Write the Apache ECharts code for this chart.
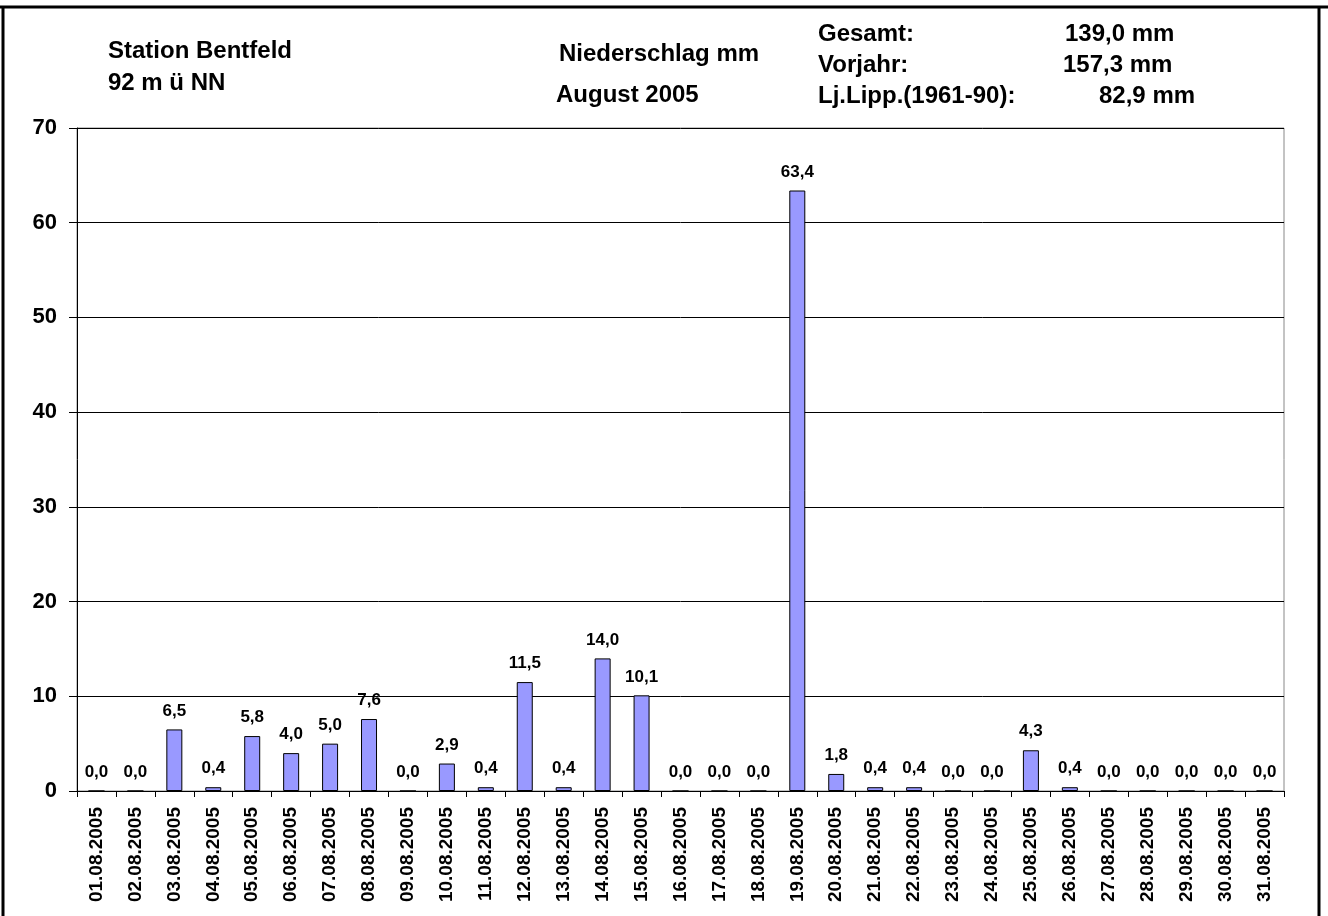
<!DOCTYPE html>
<html><head><meta charset="utf-8">
<script src="https://cdn.jsdelivr.net/npm/echarts@6/dist/echarts.min.js"></script>
<style>html,body{margin:0;padding:0;background:#fff}#c{width:1328px;height:916px}</style>
</head><body><div id="c"></div>
<script>
const categories = ['01.08.2005','02.08.2005','03.08.2005','04.08.2005','05.08.2005','06.08.2005','07.08.2005','08.08.2005','09.08.2005','10.08.2005','11.08.2005','12.08.2005','13.08.2005','14.08.2005','15.08.2005','16.08.2005','17.08.2005','18.08.2005','19.08.2005','20.08.2005','21.08.2005','22.08.2005','23.08.2005','24.08.2005','25.08.2005','26.08.2005','27.08.2005','28.08.2005','29.08.2005','30.08.2005','31.08.2005'];
const precipitation = [0.0,0.0,6.5,0.4,5.8,4.0,5.0,7.6,0.0,2.9,0.4,11.5,0.4,14.0,10.1,0.0,0.0,0.0,63.4,1.8,0.4,0.4,0.0,0.0,4.3,0.4,0.0,0.0,0.0,0.0,0.0];
const yTicks = [0,10,20,30,40,50,60,70];
const stationLines = ['Station Bentfeld','92 m ü NN'];
const titleLines = ['Niederschlag mm','August 2005'];
const summaryLabels = ['Gesamt:','Vorjahr:','Lj.Lipp.(1961-90):'];
const summaryValues = ['139,0 mm','157,3 mm','82,9 mm'];

const FONT = '"Liberation Sans", Arial, sans-serif';
const chart = echarts.init(document.getElementById('c'));
function txt(x,y,s,size){return {type:'text',left:x,top:y-size/2-1,style:{text:s,font:'bold '+size+'px '+FONT,fill:'#000'}};}
const T = 24;
const graphics = [
  {type:'line',shape:{x1:0,y1:7,x2:1328,y2:7},style:{stroke:'#000',lineWidth:3}},
  {type:'line',shape:{x1:3,y1:7,x2:3,y2:916},style:{stroke:'#000',lineWidth:3}},
  {type:'line',shape:{x1:1319,y1:7,x2:1319,y2:916},style:{stroke:'#000',lineWidth:3}},
  txt(108,52,stationLines[0],T), txt(108,84,stationLines[1],T),
  txt(559,55,titleLines[0],T), txt(556,96,titleLines[1],T),
  txt(818,35,summaryLabels[0],T), txt(818,66,summaryLabels[1],T), txt(818,97,summaryLabels[2],T),
  txt(1065,35,summaryValues[0],T), txt(1063,66,summaryValues[1],T), txt(1099,97,summaryValues[2],T)
];
chart.setOption({
  animation:false,
  grid:{left:77,right:44,top:128,bottom:125,show:true,borderColor:'#888',borderWidth:1,backgroundColor:'transparent'},
  xAxis:{type:'category',data:categories,boundaryGap:true,
    axisLine:{lineStyle:{color:'#000',width:1}},
    axisTick:{show:true,alignWithLabel:false,length:6,lineStyle:{color:'#000'}},
    axisLabel:{rotate:90,interval:0,margin:16,color:'#000',fontWeight:'bold',fontSize:19,fontFamily:FONT}},
  yAxis:{type:'value',min:yTicks[0],max:yTicks[yTicks.length-1],interval:10,
    axisLine:{show:true,lineStyle:{color:'#000'}},
    axisTick:{show:true,length:8,lineStyle:{color:'#000'}},
    splitLine:{lineStyle:{color:'#000',width:1}},
    axisLabel:{margin:20,color:'#000',fontWeight:'bold',fontSize:22,fontFamily:FONT}},
  series:[{type:'bar',data:precipitation,barWidth:16,
    itemStyle:{color:'#9999ff',borderColor:'#000',borderWidth:1},
    label:{show:true,position:'top',distance:10,color:'#000',fontWeight:'bold',fontSize:17,fontFamily:FONT,
      formatter:p=>p.value.toFixed(1).replace('.',',')}}],
  graphic:graphics
});
</script></body></html>
